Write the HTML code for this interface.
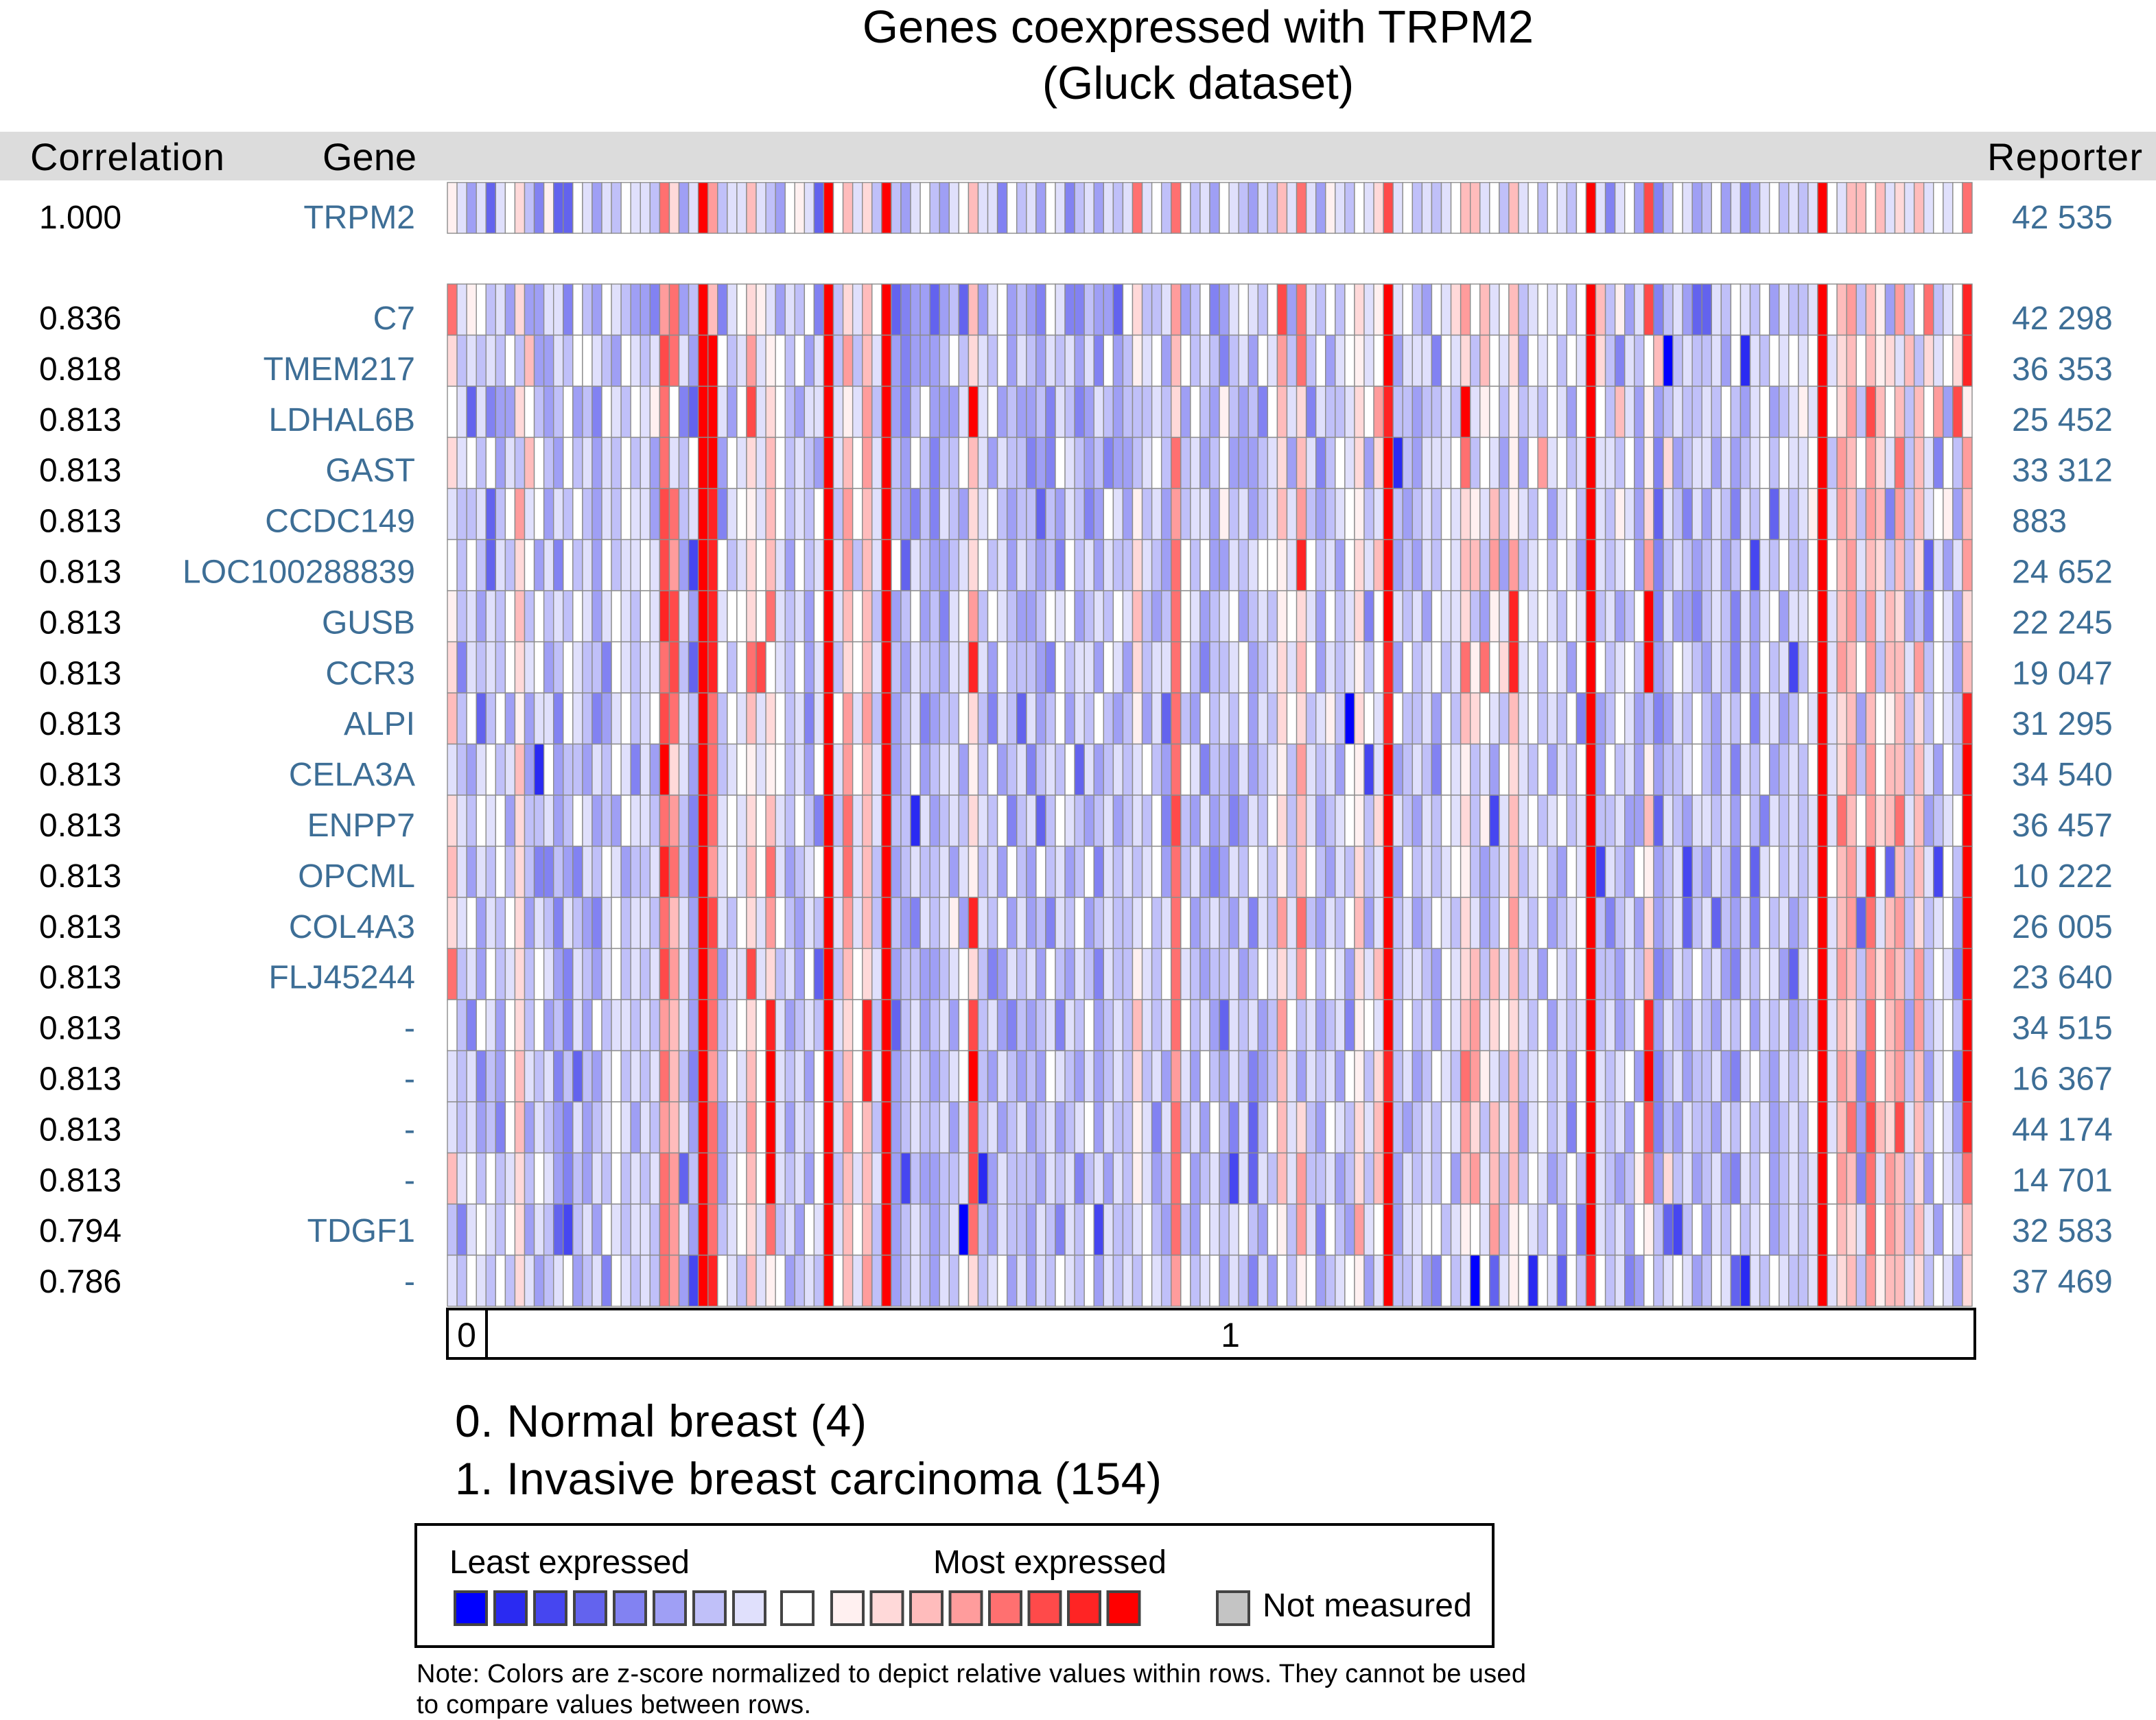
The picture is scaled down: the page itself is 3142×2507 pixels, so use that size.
<!DOCTYPE html>
<html><head><meta charset="utf-8"><style>
html,body{margin:0;padding:0;background:#fff;}
svg{display:block;}
text{font-family:"Liberation Sans",Arial,sans-serif;}
</style></head><body>
<svg id="chart" width="3142" height="2507" viewBox="0 0 3142 2507" xmlns="http://www.w3.org/2000/svg">
<text x="1746" y="62" font-size="67" text-anchor="middle" fill="#000">Genes coexpressed with TRPM2</text>
<text x="1746" y="144" font-size="67" text-anchor="middle" fill="#000">(Gluck dataset)</text>
<rect x="0" y="192" width="3142" height="71" fill="#dcdcdc"/>
<text x="44" y="248" font-size="56" textLength="283" fill="#000">Correlation</text>
<text x="607" y="248" font-size="56" text-anchor="end" fill="#000">Gene</text>
<text x="2896" y="248" font-size="56" textLength="226" fill="#000">Reporter</text>
<g id="rows"></g>
<g id="classbar">
<rect x="652" y="1908" width="2226" height="72" fill="#fff" stroke="#000" stroke-width="4"/>
<line x1="709" y1="1908" x2="709" y2="1980" stroke="#000" stroke-width="4"/>
<text x="680" y="1963" font-size="50" text-anchor="middle">0</text>
<text x="1793" y="1963" font-size="50" text-anchor="middle">1</text>
</g>
<text x="663" y="2094" font-size="66" textLength="600">0. Normal breast (4)</text>
<text x="663" y="2178" font-size="66" textLength="1030">1. Invasive breast carcinoma (154)</text>
<g>
<rect x="606" y="2222" width="1570" height="178" fill="#fff" stroke="#000" stroke-width="4"/>
<text x="655" y="2293" font-size="48" textLength="350">Least expressed</text>
<text x="1360" y="2293" font-size="48" textLength="340">Most expressed</text>
<g id="swatches"></g>
<rect x="1774" y="2320" width="46" height="48" fill="#c4c4c4" stroke="#444" stroke-width="4"/>
<text x="1840" y="2356" font-size="48" textLength="305">Not measured</text>
</g>
<text x="607" y="2452" font-size="38" textLength="1617">Note: Colors are z-score normalized to depict relative values within rows. They cannot be used</text>
<text x="607" y="2497" font-size="38" textLength="575">to compare values between rows.</text>
</svg>
<script>
// values per sample: '0' white, '1'..'8' blue (light->dark), 'A'..'H' red (light->dark)
const correlations = ["1.000","0.836","0.818","0.813","0.813","0.813","0.813","0.813","0.813","0.813","0.813","0.813","0.813","0.813","0.813","0.813","0.813","0.813","0.813","0.794","0.786"];
const genes = ["TRPM2","C7","TMEM217","LDHAL6B","GAST","CCDC149","LOC100288839","GUSB","CCR3","ALPI","CELA3A","ENPP7","OPCML","COL4A3","FLJ45244","-","-","-","-","TDGF1","-"];
const reporters = ["42 535","42 298","36 353","25 452","33 312","883","24 652","22 245","19 047","31 295","34 540","36 457","10 222","26 005","23 640","34 515","16 367","44 174","14 701","32 583","37 469"];
const rowValues = [
"A131510B24 A550131201 12EB31HD21 1C1230A15H 0C1B2H2310 2310C11402 1301421312 1E102E0213 012312C1E1 3A1201BF10 21210CC102 C1020120H1 4103F42013 2031431021 21H01CC0C1 B1C1010E",
"E1A0213B33 1140230123 34DE32HC41 0BA131204H 2B1C0H5433 5325C31032 3401442335 0B221D3204 310120F3E1 2020B1AH10 2301BD0C10 C2101020HC 2A31F42135 5120120312 21H0CD2CA3 D20E210G",
"B2121202C3 3120012301 21FE13HH02 1D1A02031H 2D2C1H3433 3202B12031 2312131403 2A103C0212 421301D2E2 0310A10H31 11401B2C01 B3010201HB 24120C8212 2130712010 10H1BC0CAB 1C2B10BG",
"0151433B02 3203240120 1AE045HH13 0F1B02311H 1A1D2H3420 3331H10323 3241243123 22212B3023 A23240C1B4 1221B0DG22 32212H1A02 A2120130H0 2C13A32122 1202310321 A1H0BD2FC0 C2C0D3FA",
"B1020312C0 2302131202 13E120HH30 1B1C02123H 1C0D1H2302 4220C13122 4340123243 32102E2132 033321B3C1 4201B3BH72 31110E2013 A30D1021H1 1203A4B321 1313210201 10H2DC0DB1 E2C1402D",
"1221520D10 3120231201 13FE21HG41 0A1C02120H 2D0C1H2342 4123B10232 2523124301 3A213D2113 A21321C1D2 3210A21H23 21201BA1C2 A1203102H1 2A13B51241 3124120512 1AH1DC2DC4 D2C10A3C",
"0202512B03 1402130211 01FD36HG02 1B0C13021H 1D2C1H0512 3321B02131 2324021312 2B123E0203 312100A1G0 2130B1CH32 31201CC2D3 D2102013H1 2103D42123 2132061202 20H0CD1CB2 C2B5131D",
"A213120C20 2120131012 01GF13HG10 0B0E12130H 1C0C2H3203 2410D20123 3201032120 1C232E0132 103212A0B1 3021B40H12 13011B23A1 G0101201H2 1320H41334 2124131031 10H1CD2D1C B324013B",
"B412120B10 3201224012 11EF25HG02 0EF012031H 2B0C1H2312 2311G13022 2340211301 3B211E0242 210321B1C0 3121A20G30 21021EAE0B G1020130H0 2102H32012 3124130216 20H1DC0D2C C1D2013C",
"C205203A31 1401243102 10FE12HE20 1C1B02141H 0D1D2H3214 3220B24125 1320312023 2A315E2302 120312B0B2 1A28B01G02 21302CB012 C1021204H3 2013243120 2312041132 01H1BC3C0A C2B2012G",
"1231021C37 0322312014 13HB13HE21 0A1A02130H 1D0C1H3203 2113A20321 4212051321 21023E0142 231321A2D1 2130A61H32 12401A2130 B1203120H3 0213A32210 2314120321 20H1BD2D0C C2C1302H",
"B120103B22 1320132301 12ED24HE10 1B0C12024H 2E1C1H2271 3212B12042 1520123213 21204F2313 243120B2C1 3210A2BH12 31201B2A61 C1021021H2 2133C51231 1213024121 21H1EC0DBC E1C3210H",
"C131202B24 4234120132 21GE24HD10 1C0E13210H 1E1C2H3212 2131A21302 3021320412 12103E2134 312012A2C0 2312B21H30 21210A2321 C2102301H6 1230A32162 3124051021 21H0CD1G05 C2C1602H",
"B103120B31 2412341021 12EC13HF12 0B1D02312H 1D1C2H2341 21A3G12031 3241203212 21021E0321 231412D1E2 3120C31H21 32012B1320 D1203210H2 4213B32152 1523140213 20H1CD5E1C D2B2103H",
"E213021B20 1341231021 21FD13HE31 1F1B21305H 2C0B1H3223 3210B24312 1302312412 2A120E1232 213201B1D0 2013B1CH21 12301BC2C1 C2130120H2 2312C43120 2134120135 10H1DC2DBD C2D2014H",
"0240130B20 3241302112 12DC13HE21 0B0G13212H 1B0G2H5213 2130F21342 3214120321 2C121E0213 512132D021 3214A01H20 21301CD1B0 B1203121H2 1320G31231 2312031213 21H1CB2E0C D3D2102H",
"1214230C12 1425231021 21EC24HD20 1C0H12130H 2C0G1H3212 3210H23123 2301231321 2B213D1302 312432C131 2130A2BG21 32012EDA12 C2102130H1 2103H42132 2134102312 10H1DC4E0C D2C3104H",
"1213240C31 2341321013 12DC13HE31 1D0H13120H 1D0C2H3212 2131F21321 3213210312 2A141E2130 241520C1B2 3012B1CH23 21201DB2C1 C3102140H1 2130F42312 2312021321 20H1CE3FCB F1C2013G",
"C102021B20 1342312021 21ED52HE31 0C0H12130H 2C1C1H3623 3221F73122 2312142131 2A132E0321 361512C1D2 2132B2CH31 21203CD1C2 C2013202H1 232AE3B213 2134120321 21H0DC4E1D C2B3012E",
"2410120B31 2562130121 12ED13HE21 0B1E21301H 1C0C2H3212 3218E23122 3124120612 21023E2301 210230A2D1 4023D10H31 10021A01D2 A0120304H1 2130A25620 3120210321 21H0CB1E0D C2C1301C",
"1201202B13 2103214012 12ED36HG01 2C1A03212H 0C1D2H3212 3120B21031 3120120312 12012D0210 31241302A0 3210A31H22 1340218051 A0701502G0 2143021013 2015712012 21H1BC2DAC C1B2013B"
];
const levelCodes = ["8","7","6","5","4","3","2","1","0","A","B","C","D","E","F","G","H"];
const levelColors = ["#0000ff","#2a2af2","#4646f0","#6363ee","#8282f2","#9f9ff5","#c0c0f9","#e0e0fc","#ffffff","#fff0f0","#ffd9d9","#ffbcbc","#ff9c9c","#ff7070","#ff4a4a","#ff2424","#ff0000"];

const NS = "http://www.w3.org/2000/svg";
const nSamples = 158;
const hmLeft = 652, hmRight = 2874;
const cellW = (hmRight - hmLeft) / nSamples;
function xScale(i){ return hmLeft + i * cellW; }
function rowTop(r){ return r === 0 ? 266 : 414 + (r - 1) * 74.5; }
function rowH(r){ return r === 0 ? 74 : 74.5; }
function labelBase(r){ return r === 0 ? 333 : 480 + (r - 1) * 73.9; }
function colorOf(ch){ const k = levelCodes.indexOf(ch); return k < 0 ? "#ffffff" : levelColors[k]; }

const g = document.getElementById("rows");
rowValues.forEach(function(str, r){
  const vals = str.replace(/\s+/g, "").split("");
  const y = rowTop(r), h = rowH(r);
  for (let i = 0; i < nSamples; i++) {
    const rect = document.createElementNS(NS, "rect");
    rect.setAttribute("x", xScale(i).toFixed(2));
    rect.setAttribute("y", y);
    rect.setAttribute("width", cellW.toFixed(2));
    rect.setAttribute("height", h);
    rect.setAttribute("fill", colorOf(vals[i] || "0"));
    rect.setAttribute("stroke", "#8c8c8c");
    rect.setAttribute("stroke-width", "1.4");
    
    
    g.appendChild(rect);
  }
  const base = labelBase(r);
  const t1 = document.createElementNS(NS, "text");
  t1.setAttribute("x", 57); t1.setAttribute("y", base); t1.setAttribute("font-size", "48");
  t1.textContent = correlations[r];
  
  
  g.appendChild(t1);
  const t2 = document.createElementNS(NS, "text");
  t2.setAttribute("x", 605); t2.setAttribute("y", base); t2.setAttribute("font-size", "48");
  t2.setAttribute("text-anchor", "end"); t2.setAttribute("fill", "#3d6e96");
  t2.textContent = genes[r];
  
  
  g.appendChild(t2);
  const t3 = document.createElementNS(NS, "text");
  t3.setAttribute("x", 2932); t3.setAttribute("y", base); t3.setAttribute("font-size", "48");
  t3.setAttribute("fill", "#3d6e96");
  t3.textContent = reporters[r];
  
  
  g.appendChild(t3);
});

const sw = document.getElementById("swatches");
const legendOrder = ["8","7","6","5","4","3","2","1","0","A","B","C","D","E","F","G","H"];
legendOrder.forEach(function(code, k){
  let x;
  if (k < 8) x = 663 + k * 58;
  else if (k === 8) x = 1139;
  else x = 1212 + (k - 9) * 57.5;
  const r = document.createElementNS(NS, "rect");
  r.setAttribute("x", x); r.setAttribute("y", 2320);
  r.setAttribute("width", 46); r.setAttribute("height", 48);
  r.setAttribute("fill", colorOf(code)); r.setAttribute("stroke", "#444"); r.setAttribute("stroke-width", "4");
  
  
  sw.appendChild(r);
});
</script>
</body></html>
